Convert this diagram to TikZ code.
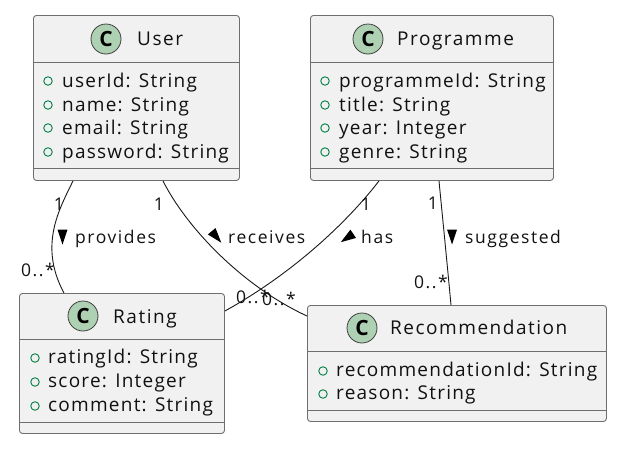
\documentclass[tikz,border=0pt]{standalone}
\usepackage{fontspec}
\setmainfont{Open Sans}
\usetikzlibrary{calc}
\definecolor{boxFill}{HTML}{F1F1F1}
\definecolor{boxLine}{HTML}{6E6E6E}
\definecolor{spotFill}{HTML}{ADD1B2}
\definecolor{dotLine}{HTML}{038048}
\definecolor{inkText}{HTML}{111111}
\tikzset{
	classbox/.style={draw=boxLine, fill=boxFill, line width=0.9pt, rounded corners=3pt, inner sep=0pt, anchor=north west},
	spot/.style={circle, draw=black!75, fill=spotFill, line width=0.8pt, minimum size=30pt, inner sep=0pt, font=\fontsize{21}{21}\selectfont\bfseries, text=black},
	title/.style={anchor=base west, inner sep=0pt, text=inkText, font=\fontsize{19}{22}\selectfont\addfontfeatures{LetterSpace=8}},
	member/.style={anchor=base west, inner sep=0pt, text=inkText, font=\fontsize{19}{22}\selectfont\addfontfeatures{LetterSpace=6.5}},
	dot/.style={circle, draw=dotLine, line width=0.9pt, minimum size=8.5pt, inner sep=0pt},
	rel/.style={anchor=base west, inner sep=0pt, text=inkText, font=\fontsize{17.5}{20}\selectfont\addfontfeatures{LetterSpace=9}},
	mult/.style={anchor=base, inner sep=0pt, text=inkText, font=\fontsize{17.5}{20}\selectfont\addfontfeatures{LetterSpace=9}},
	link/.style={draw=black!90, line width=0.9pt},
	sep/.style={draw=boxLine, line width=0.9pt},
}
\newcommand{\dirmark}[2]{\fill[black, shift={#1}, rotate=#2] (-5,-7.5) -- (5,-7.5) -- (0,7.5) -- cycle;}
\begin{document}
\begin{tikzpicture}[x=1pt, y=-1pt]
	\useasboundingbox (0,0) rectangle (633,466);
	% classes
	\node[classbox, minimum width=206pt, minimum height=165pt] (user) at (33,15) {};
	\node[classbox, minimum width=243pt, minimum height=165pt] (programme) at (310,15) {};
	\node[classbox, minimum width=205pt, minimum height=140pt] (rating) at (19,293) {};
	\node[classbox, minimum width=299pt, minimum height=116pt] (recommendation) at (307,305) {};
	% connectors
	\draw[link] ([xshift=40pt]user.south west) .. controls (60,208) and (38,245) .. ([xshift=45pt]rating.north west);
	\draw[link] ([xshift=130pt]user.south west) .. controls (185,225) and (240,285) .. ([yshift=-11pt]recommendation.north west);
	\draw[link] ([xshift=69pt]programme.south west) .. controls (345,225) and (290,275) .. ([yshift=-18pt]rating.north east);
	\draw[link] ([xshift=129pt]programme.south west) .. controls (443,222) and (447,262) .. ([xshift=144pt]recommendation.north west);
	% user
	\draw[sep] (user.west |- 0,62) -- (user.east |- 0,62);
	\draw[sep] (user.west |- 0,168) -- (user.east |- 0,168);
	\node[spot] (userspot) at (106,39) {C};
	\node[title] (usertitle) at (137,45) {User};
	\foreach \y/\txt/\nm in {87/userId: String/a, 111/name: String/b, 134/email: String/c, 158/password: String/d} {
		\node[dot] (userdot\nm) at (48,\y-6) {};
		\node[member] (usermember\nm) at (62,\y) {\txt};
	}
	% programme
	\draw[sep] (programme.west |- 0,62) -- (programme.east |- 0,62);
	\draw[sep] (programme.west |- 0,168) -- (programme.east |- 0,168);
	\node[spot] (programmespot) at (368,39) {C};
	\node[title] (programmetitle) at (397,45) {Programme};
	\foreach \y/\txt/\nm in {87/programmeId: String/a, 111/title: String/b, 134/year: Integer/c, 158/genre: String/d} {
		\node[dot] (programmedot\nm) at (325,\y-6) {};
		\node[member] (programmemember\nm) at (339,\y) {\txt};
	}
	% rating
	\draw[sep] (rating.west |- 0,339) -- (rating.east |- 0,339);
	\draw[sep] (rating.west |- 0,422) -- (rating.east |- 0,422);
	\node[spot] (ratingspot) at (83,316) {C};
	\node[title] (ratingtitle) at (113,323) {Rating};
	\foreach \y/\txt/\nm in {363/ratingId: String/a, 387/score: Integer/b, 411/comment: String/c} {
		\node[dot] (ratingdot\nm) at (35,\y-5) {};
		\node[member] (ratingmember\nm) at (48,\y) {\txt};
	}
	% recommendation
	\draw[sep] (recommendation.west |- 0,351) -- (recommendation.east |- 0,351);
	\draw[sep] (recommendation.west |- 0,410) -- (recommendation.east |- 0,410);
	\node[spot] (recommendationspot) at (362,328) {C};
	\node[title] (recommendationtitle) at (390,334) {Recommendation};
	\foreach \y/\txt/\nm in {376/recommendationId: String/a, 399/reason: String/b} {
		\node[dot] (recommendationdot\nm) at (323,\y-5) {};
		\node[member] (recommendationmember\nm) at (336,\y) {\txt};
	}
	% labels
	\node[rel] (provides) at (75,243) {provides};
	\dirmark{(62.5,237)}{0}
	\node[rel] (receives) at (228,243) {receives};
	\dirmark{(216.5,237)}{40}
	\node[rel] (has) at (361,243) {has};
	\dirmark{(347,238)}{-56}
	\node[rel] (suggested) at (465,243) {suggested};
	\dirmark{(452,237)}{0}
	% multiplicities
	\node[mult] (mulA) at (59,210) {1};
	\node[mult] (mulB) at (38,276) {0..*};
	\node[mult] (mulC) at (159,210) {1};
	\node[mult] (mulD) at (279,305) {0..*};
	\node[mult] (mulE) at (366,210) {1};
	\node[mult] (mulF) at (253,303) {0..*};
	\node[mult] (mulG) at (433,209) {1};
	\node[mult] (mulH) at (431,288) {0..*};
\end{tikzpicture}
\end{document}
